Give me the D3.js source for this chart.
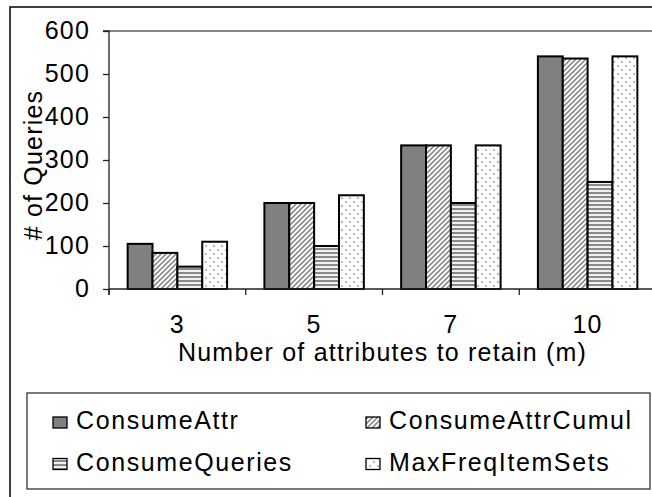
<!DOCTYPE html>
<html><head><meta charset="utf-8">
<script src="https://cdn.jsdelivr.net/npm/d3@7"></script>
<style>
html,body{margin:0;padding:0;background:#fff;}
svg text{font-family:"Liberation Sans",Arial,sans-serif;fill:#000;}
</style></head>
<body><svg id="c" width="652" height="497"></svg>
<script>
const categories = ["3", "5", "7", "10"];
const seriesNames = ["ConsumeAttr", "ConsumeAttrCumul", "ConsumeQueries", "MaxFreqItemSets"];
const consumeAttr = [105, 200, 334, 541];
const consumeAttrCumul = [84, 200, 334, 536];
const consumeQueries = [52, 100, 200, 249];
const maxFreqItemSets = [110, 218, 334, 541];
const yTicks = [0, 100, 200, 300, 400, 500, 600];
const xTitle = "Number of attributes to retain (m)";
const yTitle = "# of Queries";

const values = [consumeAttr, consumeAttrCumul, consumeQueries, maxFreqItemSets];
const svg = d3.select("#c");
const defs = svg.append("defs");

// patterns
defs.append("pattern").attr("id","p1").attr("patternUnits","userSpaceOnUse").attr("width",4).attr("height",4)
  .append("rect").attr("width",4).attr("height",4).attr("fill","#808080");
const pd = defs.append("pattern").attr("id","p2").attr("patternUnits","userSpaceOnUse").attr("width",5).attr("height",5);
pd.append("rect").attr("width",5).attr("height",5).attr("fill","#fff");
pd.append("path").attr("d","M-1,6 L6,-1 M-1,1 L1,-1 M4,6 L6,4").attr("stroke","#8c8c8c").attr("stroke-width",1.6);
const ph = defs.append("pattern").attr("id","p3").attr("patternUnits","userSpaceOnUse").attr("width",4).attr("height",4);
ph.append("rect").attr("width",4).attr("height",4).attr("fill","#f0f0f0");
ph.append("rect").attr("y",0).attr("width",4).attr("height",2).attr("fill","#8a8a8a");
const pdt = defs.append("pattern").attr("id","p4").attr("patternUnits","userSpaceOnUse").attr("width",8).attr("height",8);
pdt.append("rect").attr("width",8).attr("height",8).attr("fill","#fff");
pdt.append("circle").attr("cx",2).attr("cy",2).attr("r",0.9).attr("fill","#999");
pdt.append("circle").attr("cx",6).attr("cy",6).attr("r",0.9).attr("fill","#999");
const fills = ["url(#p1)","url(#p2)","url(#p3)","url(#p4)"];

// outer frame
svg.append("rect").attr("x",10).attr("y",7).attr("width",660).attr("height",510)
  .attr("fill","none").attr("stroke","#000").attr("stroke-width",1.5);

const x0 = 109, x1 = 656, yTop = 31, yBot = 289;
const xc = d3.scaleBand().domain(categories).range([x0, x1]);
const xs = d3.scaleBand().domain(seriesNames).range([0, xc.bandwidth() * 4 / 5.5]);
const y = d3.scaleLinear().domain([0, 600]).range([yBot, yTop]);

// plot top border
svg.append("line").attr("x1",x0).attr("x2",x1).attr("y1",yTop).attr("y2",yTop)
  .attr("stroke","#888").attr("stroke-width",2);

// bars
const g = svg.append("g");
categories.forEach((c, i) => {
  seriesNames.forEach((s, j) => {
    const v = values[j][i];
    g.append("rect")
      .attr("x", xc(c) + (xc.bandwidth() - 4 * xs.bandwidth()) / 2 + xs(s))
      .attr("y", y(v)).attr("width", xs.bandwidth()).attr("height", y(0) - y(v))
      .attr("fill", fills[j]).attr("stroke","#000").attr("stroke-width",2);
  });
});

const FF = "Liberation Sans, Arial, sans-serif";
// y axis
const yAxis = d3.axisLeft(y).tickValues(yTicks).tickSize(6).tickPadding(13);
const ya = svg.append("g").attr("transform",`translate(${x0},0)`).call(yAxis);
ya.select(".domain").attr("stroke","#222").attr("stroke-width",1.3).attr("d",`M-6,${yTop}H0V${yBot+6}`);
ya.selectAll(".tick line").attr("stroke","#222").attr("stroke-width",1.3);
ya.selectAll(".tick text").attr("font-size",25).attr("font-family",FF)
  .attr("letter-spacing",1.2).attr("dy","0.3em").attr("fill","#000");

// x axis
const xAxis = d3.axisBottom(xc).tickSize(0).tickPadding(26);
const xa = svg.append("g").attr("transform",`translate(0,${yBot})`).call(xAxis);
xa.select(".domain").attr("stroke","#222").attr("stroke-width",1.3).attr("d",`M${x0},0H${x1}`);
xa.selectAll(".tick text").attr("font-size",25).attr("font-family",FF)
  .attr("letter-spacing",1.2).attr("dy","0.72em").attr("fill","#000");
categories.forEach(c => {
  xa.append("line").attr("x1",xc(c)).attr("x2",xc(c)).attr("y1",0).attr("y2",6)
    .attr("stroke","#222").attr("stroke-width",1.3);
});

// titles
svg.append("text").attr("x", (x0 + x1) / 2).attr("y", 361).attr("text-anchor","middle")
  .attr("font-size",25).attr("letter-spacing",1.2).text(xTitle);
svg.append("text").attr("transform","translate(42,165) rotate(-90)").attr("text-anchor","middle")
  .attr("font-size",25).attr("letter-spacing",1.2).text(yTitle);

// legend
svg.append("rect").attr("x",27).attr("y",393).attr("width",623).attr("height",96)
  .attr("fill","#fff").attr("stroke","#333").attr("stroke-width",1.3);
const legPos = [[53,429],[366,429],[53,470.5],[366,470.5]];
seriesNames.forEach((s, j) => {
  const [lx, ly] = legPos[j];
  svg.append("rect").attr("x",lx).attr("y",ly-12).attr("width",14).attr("height",11)
    .attr("fill",fills[j]).attr("stroke","#000").attr("stroke-width",1.3);
  svg.append("text").attr("x",lx+23).attr("y",ly).attr("font-size",25)
    .attr("letter-spacing",1.6).text(s);
});
</script></body></html>
